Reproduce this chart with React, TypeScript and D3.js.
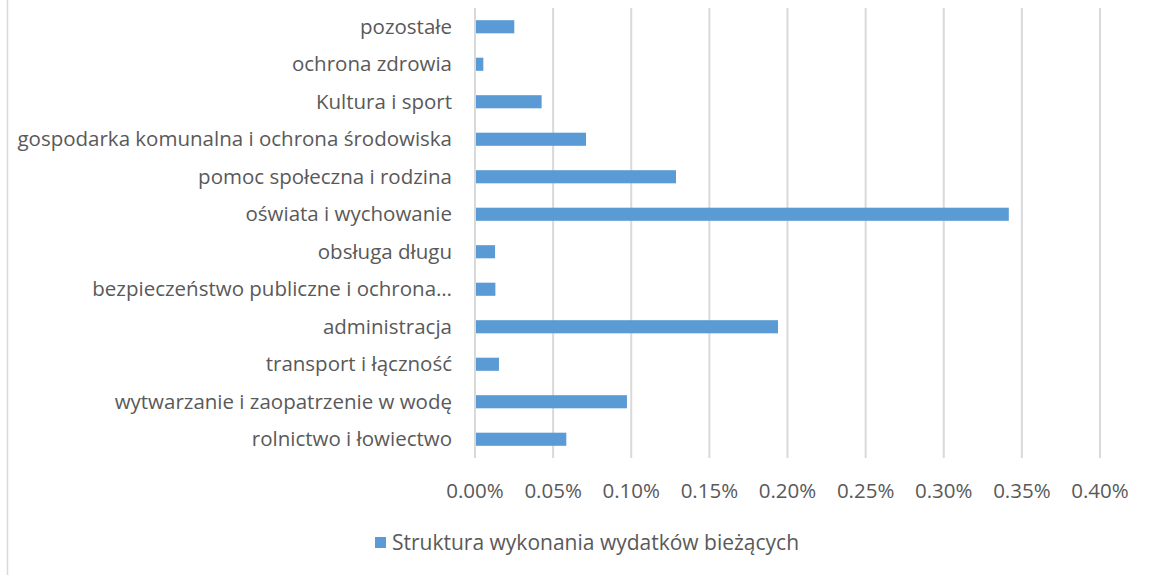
import { useRef, useEffect } from 'react';
import * as d3 from 'd3';

const categories = [
  'pozostałe',
  'ochrona zdrowia',
  'Kultura i sport',
  'gospodarka komunalna i ochrona środowiska',
  'pomoc społeczna i rodzina',
  'oświata i wychowanie',
  'obsługa długu',
  'bezpieczeństwo publiczne i ochrona…',
  'administracja',
  'transport i łączność',
  'wytwarzanie i zaopatrzenie w wodę',
  'rolnictwo i łowiectwo',
];
// percent values (0.0245 = 0.0245%)
const values = [0.0245, 0.0047, 0.042, 0.0704, 0.128, 0.341, 0.0122, 0.0124, 0.1933, 0.0147, 0.0966, 0.0578];
const ticks = [0, 0.05, 0.1, 0.15, 0.2, 0.25, 0.3, 0.35, 0.4];
const seriesName = 'Struktura wykonania wydatków bieżących';

const W = 1152;
const H = 575;
const FONT = '"Open Sans", sans-serif';
const TXT = '#595959';
const BAR = '#5b9bd5';

const App = () => {
  const ref = useRef<SVGSVGElement>(null);

  useEffect(() => {
    const svg = d3.select(ref.current);
    svg.selectAll('*').remove();

    const x = d3.scaleLinear().domain([0, 0.4]).range([475, 1100]);
    const y = d3.scaleBand().domain(categories).range([8, 458]).paddingInner(0.65).paddingOuter(0.325);

    svg.append('rect').attr('width', W).attr('height', H).attr('fill', '#fff');
    svg.append('line')
      .attr('x1', 7.5).attr('x2', 7.5).attr('y1', 0).attr('y2', H)
      .attr('stroke', '#d9d9d9').attr('stroke-width', 1.5);

    // gridlines
    svg.append('g').selectAll('line')
      .data(ticks)
      .enter()
      .append('line')
      .attr('x1', d => x(d)).attr('x2', d => x(d))
      .attr('y1', 8).attr('y2', 458)
      .attr('stroke', '#d9d9d9').attr('stroke-width', 2);

    // bars
    svg.append('g').selectAll('rect')
      .data(values)
      .enter()
      .append('rect')
      .attr('x', x(0) + 1)
      .attr('y', (d, i) => y(categories[i])!)
      .attr('width', d => x(d) - x(0))
      .attr('height', y.bandwidth())
      .attr('fill', BAR);

    // category labels
    svg.append('g').selectAll('text')
      .data(categories)
      .enter()
      .append('text')
      .attr('x', 452)
      .attr('y', d => y(d)! + y.bandwidth() / 2)
      .attr('dy', '0.35em')
      .attr('text-anchor', 'end')
      .attr('font-family', FONT)
      .attr('font-size', 20.5)
      .attr('fill', TXT)
      .text(d => d);

    // tick labels
    svg.append('g').selectAll('text')
      .data(ticks)
      .enter()
      .append('text')
      .attr('x', d => x(d))
      .attr('y', 491)
      .attr('dy', '0.35em')
      .attr('text-anchor', 'middle')
      .attr('font-family', FONT)
      .attr('font-size', 20.5)
      .attr('fill', TXT)
      .text(d => d3.format('.2f')(d) + '%');

    // legend
    const lg = svg.append('g');
    lg.append('rect').attr('x', 375).attr('y', 537).attr('width', 11).attr('height', 11).attr('fill', BAR);
    lg.append('text')
      .attr('x', 392).attr('y', 543).attr('dy', '0.35em')
      .attr('font-family', FONT).attr('font-size', 21).attr('fill', TXT)
      .text(seriesName);
  }, []);

  return (
    <div style={{ position: 'absolute', left: 0, top: 0 }}>
      <svg ref={ref} width={W} height={H} style={{ display: 'block' }}></svg>
    </div>
  );
};

export default App;
